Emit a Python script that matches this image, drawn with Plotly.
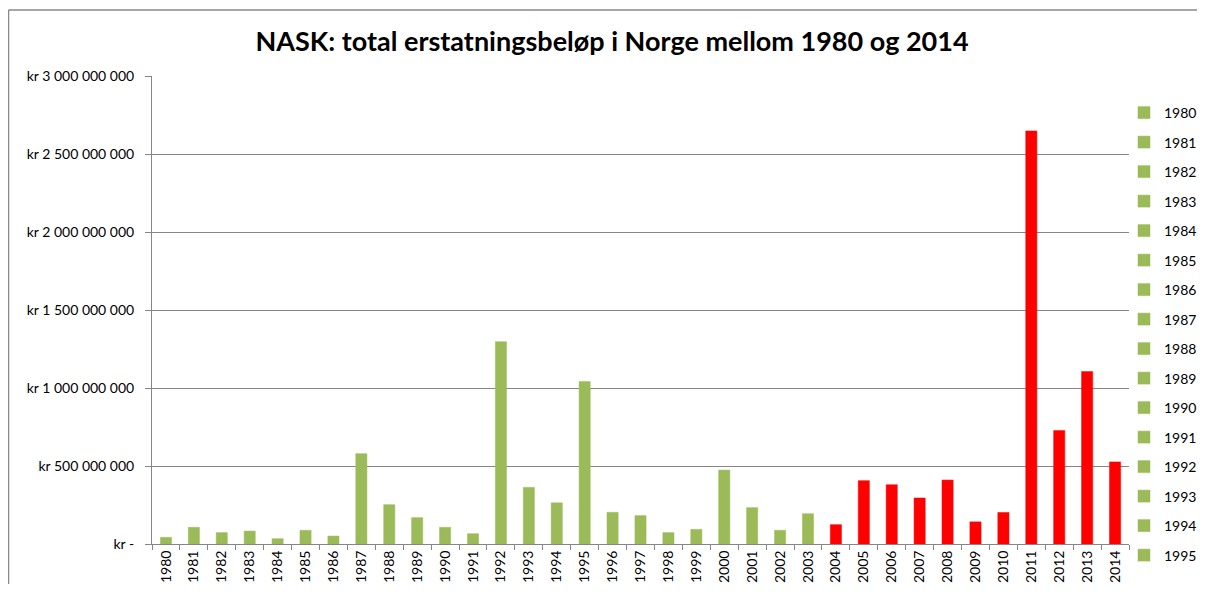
import plotly.graph_objects as go

years = [str(y) for y in range(1980, 2015)]
values = [43e6, 107e6, 73e6, 83e6, 34e6, 88e6, 51e6, 579e6, 252e6, 169e6,
          107e6, 66e6, 1297e6, 363e6, 264e6, 1042e6, 203e6, 182e6, 73e6, 94e6,
          474e6, 233e6, 88e6, 194e6, 124e6, 406e6, 380e6, 295e6, 410e6, 142e6,
          202e6, 2648e6, 727e6, 1105e6, 526e6]
colors = ["#9BBB59"] * 24 + ["#FF0000"] * 11
legend_years = years[:16]

tick_vals = [0, 5e8, 1e9, 1.5e9, 2e9, 2.5e9, 3e9]
tick_text = ["kr -", "kr 500 000 000", "kr 1 000 000 000", "kr 1 500 000 000",
             "kr 2 000 000 000", "kr 2 500 000 000", "kr 3 000 000 000"]

FONT = "Lato"

fig = go.Figure()
for yr, v, c in zip(years, values, colors):
    fig.add_trace(go.Bar(
        x=[yr], y=[v], name=yr, marker=dict(color=c, line=dict(color=c, width=0.5)),
        width=0.4, showlegend=yr in legend_years, legendgroup=yr,
    ))

# page has an 8px body margin; figure starts at (8, 8)
OFF = 8
W, H = 1205 - 2 * OFF, 592 - 2 * OFF
l, t = 152 - OFF, 76 - OFF
r = W - (1129 - OFF)
b = H - (544 - OFF)
pw, ph = W - l - r, H - t - b

def px(x):  # page x -> paper
    return (x - OFF - l) / pw

def py(y):  # page y -> paper
    return (H - b - (y - OFF)) / ph

frame = dict(color="#888888", width=1.5)

fig.update_layout(
    width=W, height=H,
    margin=dict(l=l, r=r, t=t, b=b, pad=0, autoexpand=False),
    paper_bgcolor="white", plot_bgcolor="white",
    barmode="overlay",
    font=dict(family=FONT, size=14, color="#000000"),
    title=dict(text="<b>NASK: total erstatningsbeløp i Norge mellom 1980 og 2014</b>",
               xref="paper", x=px(612), xanchor="center",
               y=1 - (42 - OFF) / H, yanchor="middle",
               font=dict(family=FONT, size=27, color="#000000")),
    xaxis=dict(type="category", categoryorder="array", categoryarray=years,
               tickangle=-90, tickson="boundaries", ticks="outside", ticklen=5,
               tickcolor="#868686", showline=True, linecolor="#868686", linewidth=1,
               showgrid=False, tickfont=dict(size=14), range=[-0.5, 34.5],
               automargin=False),
    yaxis=dict(range=[0, 3e9], tickvals=tick_vals, ticktext=tick_text,
               ticks="outside", ticklen=6, tickcolor="#868686",
               showline=True, linecolor="#868686", linewidth=1,
               showgrid=True, gridcolor="#868686", gridwidth=1,
               zeroline=False, tickfont=dict(size=14), ticklabelstandoff=8,
               automargin=False),
    legend=dict(x=px(1124), y=py(97), xanchor="left", yanchor="top",
                traceorder="grouped", tracegroupgap=8.3,
                font=dict(size=14), itemwidth=30, bgcolor="rgba(0,0,0,0)"),
    shapes=[
        dict(type="line", xref="paper", yref="paper",
             x0=px(8.5), x1=px(8.5), y0=py(620), y1=py(10), line=frame, layer="below"),
        dict(type="line", xref="paper", yref="paper",
             x0=px(8.5), x1=px(1230), y0=py(10), y1=py(10), line=frame, layer="below"),
    ],
)

fig.write_html("out.html")
